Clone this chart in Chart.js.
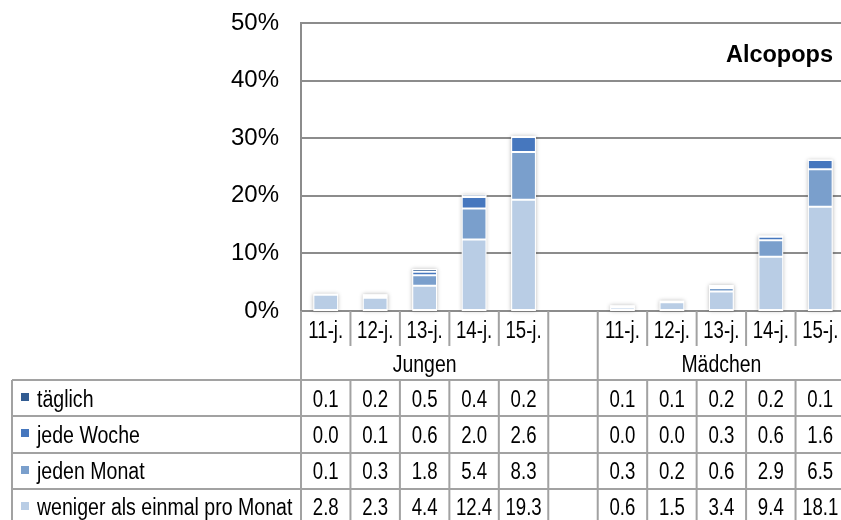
<!DOCTYPE html>
<html>
<head>
<meta charset="utf-8">
<script src="https://cdn.jsdelivr.net/npm/chart.js@4.4.1/dist/chart.umd.min.js"></script>
<style>
html,body{margin:0;padding:0;overflow:hidden;background:#fff;}
#wrap{position:absolute;left:0;top:0;width:845px;height:520px;}
</style>
</head>
<body>
<div id="wrap"><canvas id="c" width="845" height="520"></canvas></div>
<script>
// ---- data ----
const title = 'Alcopops';
const ageLabels = ['11-j.', '12-j.', '13-j.', '14-j.', '15-j.'];
const groupLabels = ['Jungen', 'Mädchen'];
const yTicks = [0, 10, 20, 30, 40, 50];
const seriesNames = ['täglich', 'jede Woche', 'jeden Monat', 'weniger als einmal pro Monat'];
const seriesColors = ['#325C92', '#4677BE', '#7A9FCC', '#B9CDE5'];

const taeglichJungen = [0.1, 0.2, 0.5, 0.4, 0.2];
const taeglichMaedchen = [0.1, 0.1, 0.2, 0.2, 0.1];
const wocheJungen = [0.0, 0.1, 0.6, 2.0, 2.6];
const wocheMaedchen = [0.0, 0.0, 0.3, 0.6, 1.6];
const monatJungen = [0.1, 0.3, 1.8, 5.4, 8.3];
const monatMaedchen = [0.3, 0.2, 0.6, 2.9, 6.5];
const wenigerJungen = [2.8, 2.3, 4.4, 12.4, 19.3];
const wenigerMaedchen = [0.6, 1.5, 3.4, 9.4, 18.1];

// ---- build ----
const categories = [...ageLabels, '', ...ageLabels];
const join = (a, b) => [...a, null, ...b];
const seriesData = [
  join(taeglichJungen, taeglichMaedchen),
  join(wocheJungen, wocheMaedchen),
  join(monatJungen, monatMaedchen),
  join(wenigerJungen, wenigerMaedchen)
];
// stacking order: bottom first
const stackOrder = [3, 2, 1, 0];
const datasets = stackOrder.map(i => ({
  label: seriesNames[i],
  data: seriesData[i],
  backgroundColor: seriesColors[i],
  borderColor: '#ffffff',
  borderWidth: 1,
  borderSkipped: false,
  categoryPercentage: 1.0,
  barPercentage: 0.5
}));

const FONT = '"Liberation Sans", Arial, sans-serif';
const LINE = '#a2a2a2';
const GRID = '#8c8c8c';

function narrow(ctx, text, x, y, align, sx) {
  ctx.save();
  ctx.translate(x, y);
  ctx.scale(sx, 1);
  ctx.textAlign = align;
  ctx.textBaseline = 'alphabetic';
  ctx.fillText(text, 0, 0);
  ctx.restore();
}

const shadowPlugin = {
  id: 'stackShadow',
  beforeDatasetsDraw(chart) {
    const ctx = chart.ctx;
    const y = chart.scales.y;
    const base = y.getPixelForValue(0);
    const metas = chart.data.datasets.map((d, i) => chart.getDatasetMeta(i));
    ctx.save();
    ctx.shadowColor = 'rgba(0,0,0,0.28)';
    ctx.shadowBlur = 4;
    ctx.fillStyle = '#ffffff';
    for (let k = 0; k < categories.length; k++) {
      let top = null, bx = null, bw = null;
      metas.forEach(m => {
        const el = m.data[k];
        if (!el || el.skip || chart.data.datasets[m.index].data[k] == null) return;
        const p = el.getProps(['x', 'y', 'width'], true);
        if (top === null || p.y < top) top = p.y;
        bx = p.x; bw = p.width;
      });
      if (top === null) continue;
      ctx.fillRect(bx - bw / 2, top, bw, base - top);
    }
    ctx.restore();
  }
};

const tablePlugin = {
  id: 'dataTable',
  afterDraw(chart) {
    const ctx = chart.ctx;
    const xs = chart.scales.x;
    const ca = chart.chartArea;
    const n = categories.length;
    const gap = categories.indexOf('');
    const bounds = [ca.left];
    for (let i = 1; i < n; i++) bounds.push((xs.getPixelForValue(i - 1) + xs.getPixelForValue(i)) / 2);
    bounds.push(ca.right);

    const catBottom = ca.bottom + 35;
    const tableTop = ca.bottom + 69;
    const rowH = 36.3;
    const tableLeft = 12;
    const H = chart.height;

    ctx.save();
    ctx.strokeStyle = LINE;
    ctx.lineWidth = 2;
    ctx.beginPath();
    for (let i = 1; i < n; i++) {
      ctx.moveTo(bounds[i], ca.bottom);
      if (i === gap || i === gap + 1) ctx.lineTo(bounds[i], H);
      else ctx.lineTo(bounds[i], catBottom);
    }
    ctx.moveTo(bounds[n], ca.bottom); ctx.lineTo(bounds[n], H);
    ctx.moveTo(ca.left, ca.bottom); ctx.lineTo(ca.left, H);
    for (let i = 1; i < n; i++) {
      ctx.moveTo(bounds[i], tableTop); ctx.lineTo(bounds[i], H);
    }
    ctx.moveTo(tableLeft, tableTop); ctx.lineTo(tableLeft, H);
    for (let r = 0; r < seriesNames.length; r++) {
      const yy = Math.round(tableTop + r * rowH);
      ctx.moveTo(tableLeft, yy); ctx.lineTo(ca.right, yy);
    }
    ctx.stroke();

    ctx.fillStyle = '#000000';
    ctx.font = '23px ' + FONT;
    for (let i = 0; i < n; i++) {
      if (!categories[i]) continue;
      narrow(ctx, categories[i], xs.getPixelForValue(i), ca.bottom + 27, 'center', 0.81);
    }
    narrow(ctx, groupLabels[0], (bounds[0] + bounds[gap]) / 2, ca.bottom + 61, 'center', 0.845);
    narrow(ctx, groupLabels[1], (bounds[gap + 1] + bounds[n]) / 2, ca.bottom + 61, 'center', 0.845);

    for (let r = 0; r < seriesNames.length; r++) {
      const top = tableTop + r * rowH;
      ctx.fillStyle = seriesColors[r];
      ctx.fillRect(21, Math.round(top + 13), 8, 8);
      ctx.fillStyle = '#000000';
      narrow(ctx, seriesNames[r], 37, top + 26.5, 'left', 0.85);
      for (let i = 0; i < n; i++) {
        const v = seriesData[r][i];
        if (v == null) continue;
        narrow(ctx, v.toFixed(1), xs.getPixelForValue(i), top + 26.5, 'center', 0.81);
      }
    }

    ctx.font = 'bold 23.5px ' + FONT;
    ctx.textAlign = 'right';
    ctx.textBaseline = 'alphabetic';
    ctx.fillText(title, 833, 62);
    ctx.restore();
  }
};

new Chart(document.getElementById('c'), {
  type: 'bar',
  data: { labels: categories, datasets },
  options: {
    responsive: false,
    animation: false,
    devicePixelRatio: 1,
    layout: { padding: { top: 23, left: 0, right: 0, bottom: 0 } },
    plugins: { legend: { display: false }, tooltip: { enabled: false }, title: { display: false } },
    scales: {
      x: {
        stacked: true,
        offset: true,
        grid: { display: false },
        border: { display: false },
        ticks: { display: false },
        afterFit(s) { s.height = 209; s.paddingLeft = 0; s.paddingRight = 0; }
      },
      y: {
        stacked: true,
        min: yTicks[0],
        max: yTicks[yTicks.length - 1],
        afterBuildTicks(s) { s.ticks = yTicks.map(v => ({ value: v })); },
        ticks: {
          callback: v => v + '%',
          color: '#000000',
          font: { family: FONT, size: 24 },
          padding: 22
        },
        grid: { color: GRID, lineWidth: 2, drawTicks: false },
        border: { color: GRID, width: 2 },
        afterFit(s) { s.width = 301; s.paddingTop = 0; s.paddingBottom = 0; }
      }
    }
  },
  plugins: [shadowPlugin, tablePlugin]
});
</script>
</body>
</html>
